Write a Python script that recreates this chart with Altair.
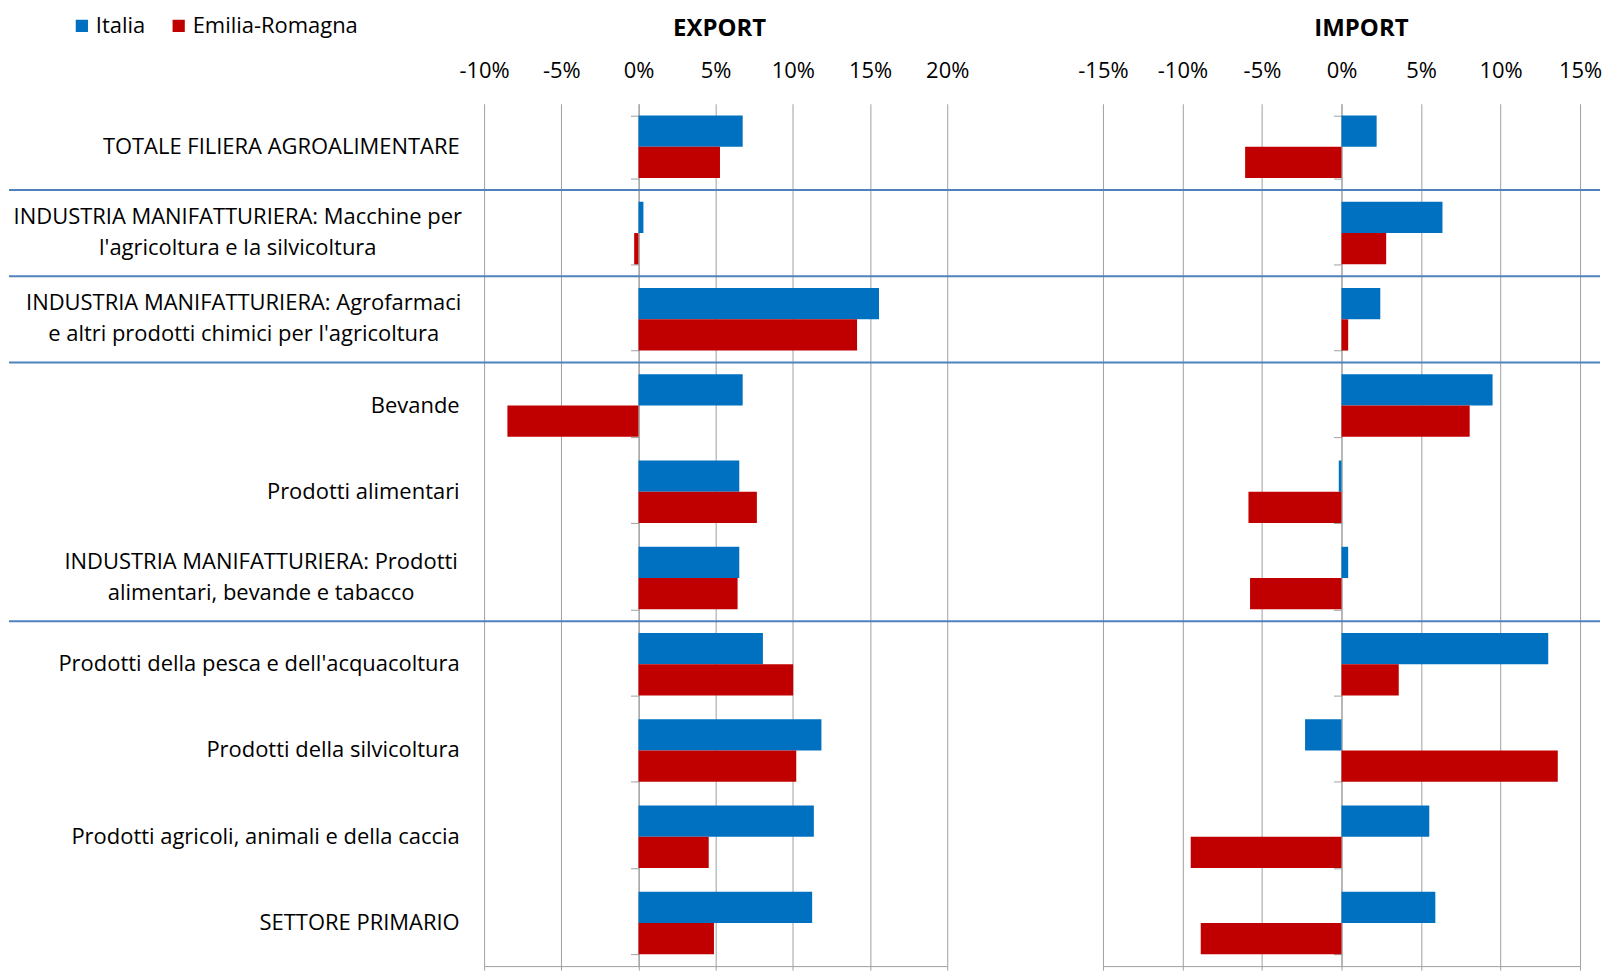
import altair as alt
import pandas as pd

# ---------------- data ----------------
categories = [
    "TOTALE FILIERA AGROALIMENTARE",
    "INDUSTRIA MANIFATTURIERA: Macchine per\nl'agricoltura e la silvicoltura",
    "INDUSTRIA MANIFATTURIERA: Agrofarmaci\ne altri prodotti chimici per l'agricoltura",
    "Bevande",
    "Prodotti alimentari",
    "INDUSTRIA MANIFATTURIERA: Prodotti\nalimentari, bevande e tabacco",
    "Prodotti della pesca e dell'acquacoltura",
    "Prodotti della silvicoltura",
    "Prodotti agricoli, animali e della caccia",
    "SETTORE PRIMARIO",
]
series = ["Italia", "Emilia-Romagna"]

export_italia = [6.75, 0.32, 15.58, 6.75, 6.53, 6.53, 8.06, 11.85, 11.36, 11.25]
export_er = [5.28, -0.28, 14.16, -8.49, 7.67, 6.42, 10.02, 10.22, 4.55, 4.89]
import_italia = [2.21, 6.35, 2.44, 9.50, -0.17, 0.42, 13.00, -2.29, 5.52, 5.90]
import_er = [-6.06, 2.81, 0.42, 8.06, -5.85, -5.75, 3.60, 13.60, -9.48, -8.85]

group_starts = [categories[1], categories[2], categories[3], categories[6]]

export_ticks = [-10, -5, 0, 5, 10, 15, 20]
import_ticks = [-15, -10, -5, 0, 5, 10, 15]
export_domain = [-10, 20]
import_domain = [-15, 15]

# ---------------- style ----------------
FONT = "Open Sans"
FS = 22
CHAR_W = 11.7          # approx. advance of the label font, used to centre 2nd lines
LABEL_PAD = 25
BLUE = "#0070C0"
RED = "#C00000"
GRID = "#A0A0A0"
SEP = "#4F81BD"
EXP_W, IMP_W, H, GAP = 464, 478, 864, 156
PAD_IN, PAD_OUT = 0.275, 0.1375


def long_table(it, er):
    rows = []
    for c, a, b in zip(categories, it, er):
        rows.append({"cat": c, "serie": series[0], "val": a})
        rows.append({"cat": c, "serie": series[1], "val": b})
    return pd.DataFrame(rows)


yscale = alt.Scale(domain=categories, paddingInner=PAD_IN, paddingOuter=PAD_OUT)
color_scale = alt.Scale(domain=series, range=[BLUE, RED])
step = H / len(categories)

MULTI = "indexof(datum.value, '\\n') >= 0"
multi_labels = [c for c in categories if "\n" in c]
pad_conditions = [
    {"test": "datum.value === " + repr(c).replace("\\'", "\\\\'") if False else
     "indexof(datum.value, '" + c.split("\n")[0] + "') === 0",
     "value": round(LABEL_PAD + len(c.split("\n")[0]) * CHAR_W / 2, 1)}
    for c in multi_labels
]

legend = alt.Legend(
    orient="none", legendX=-414, legendY=-89, direction="horizontal",
    title=None, symbolType="square", symbolSize=150, symbolStrokeWidth=0,
    labelFontSize=FS, labelFont=FONT, labelColor="#000000", labelLimit=400,
    columnPadding=22, labelOffset=3,
)


def panel(df, domain, ticks, width, title, title_dx, show_labels, separators):
    xs = alt.Scale(domain=domain, nice=False, zero=False)
    zero_px = width * (0 - domain[0]) / (domain[1] - domain[0])
    if show_labels:
        y_axis = alt.Axis(
            orient="left", labelExpr="split(datum.label, '\\n')",
            labelBaseline={"condition": {"test": MULTI, "value": "line-bottom"},
                           "value": "middle"},
            labelAlign={"condition": {"test": MULTI, "value": "center"},
                        "value": "right"},
            labelPadding={"condition": pad_conditions, "value": LABEL_PAD},
            labelFontSize=FS, labelFont=FONT, labelColor="#000000",
            labelLimit=800, labelLineHeight=31,
            domain=False, ticks=False, grid=False, title=None,
        )
    else:
        y_axis = None

    bars = alt.Chart(df).mark_bar().encode(
        x=alt.X("val:Q", scale=xs, axis=alt.Axis(
            orient="top", values=ticks, labelExpr="datum.value + '%'",
            grid=True, gridColor=GRID, domain=False, ticks=False,
            labelFlush=False, labelOverlap=False,
            labelPadding=21, labelFontSize=FS, labelFont=FONT,
            labelColor="#000000", title=None)),
        y=alt.Y("cat:N", scale=yscale, axis=y_axis),
        yOffset=alt.YOffset("serie:N", sort=series, scale=alt.Scale(domain=series)),
        color=alt.Color("serie:N", scale=color_scale, legend=legend),
    )

    frame = alt.Chart(df).mark_point(opacity=0).encode(
        x=alt.X("val:Q", scale=xs, axis=alt.Axis(
            orient="bottom", values=ticks, labels=False, grid=False,
            domain=True, domainColor=GRID, ticks=True, tickColor=GRID,
            tickSize=4, title=None)),
        y=alt.Y("cat:N", scale=yscale, axis=alt.Axis(
            orient="left", offset=-zero_px, labels=False, grid=False,
            domain=True, domainColor=GRID, ticks=True, tickColor=GRID,
            tickSize=8, tickBand="extent", title=None)),
    )

    layers = [bars, frame]
    if separators:
        sep = alt.Chart(pd.DataFrame({"cat": group_starts})).mark_rule(
            color=SEP, strokeWidth=2
        ).encode(
            y=alt.Y("cat:N", scale=yscale, bandPosition=0, axis=None),
            yOffset=alt.value(-PAD_IN / 2 * step),
            x=alt.value(-(EXP_W + GAP + 476)),
            x2=alt.value(498),
        )
        layers.append(sep)

    return alt.layer(*layers).resolve_axis(x="independent", y="independent").properties(
        width=width, height=H,
        title=alt.TitleParams(title, fontSize=24, font=FONT, fontWeight="bold",
                              color="#000000", anchor="middle", dx=title_dx, offset=19),
    )


exp_chart = panel(long_table(export_italia, export_er), export_domain, export_ticks,
                  EXP_W, "EXPORT", 4, True, False)
imp_chart = panel(long_table(import_italia, import_er), import_domain, import_ticks,
                  IMP_W, "IMPORT", 20, False, True)

chart = alt.hconcat(exp_chart, imp_chart, spacing=GAP, bounds="flush").configure_view(
    stroke=None
).properties(
    padding={"left": 0, "top": 6, "right": 0, "bottom": 0},
    background="white",
)

chart.save("out.html", embed_options={"renderer": "svg", "actions": False})
